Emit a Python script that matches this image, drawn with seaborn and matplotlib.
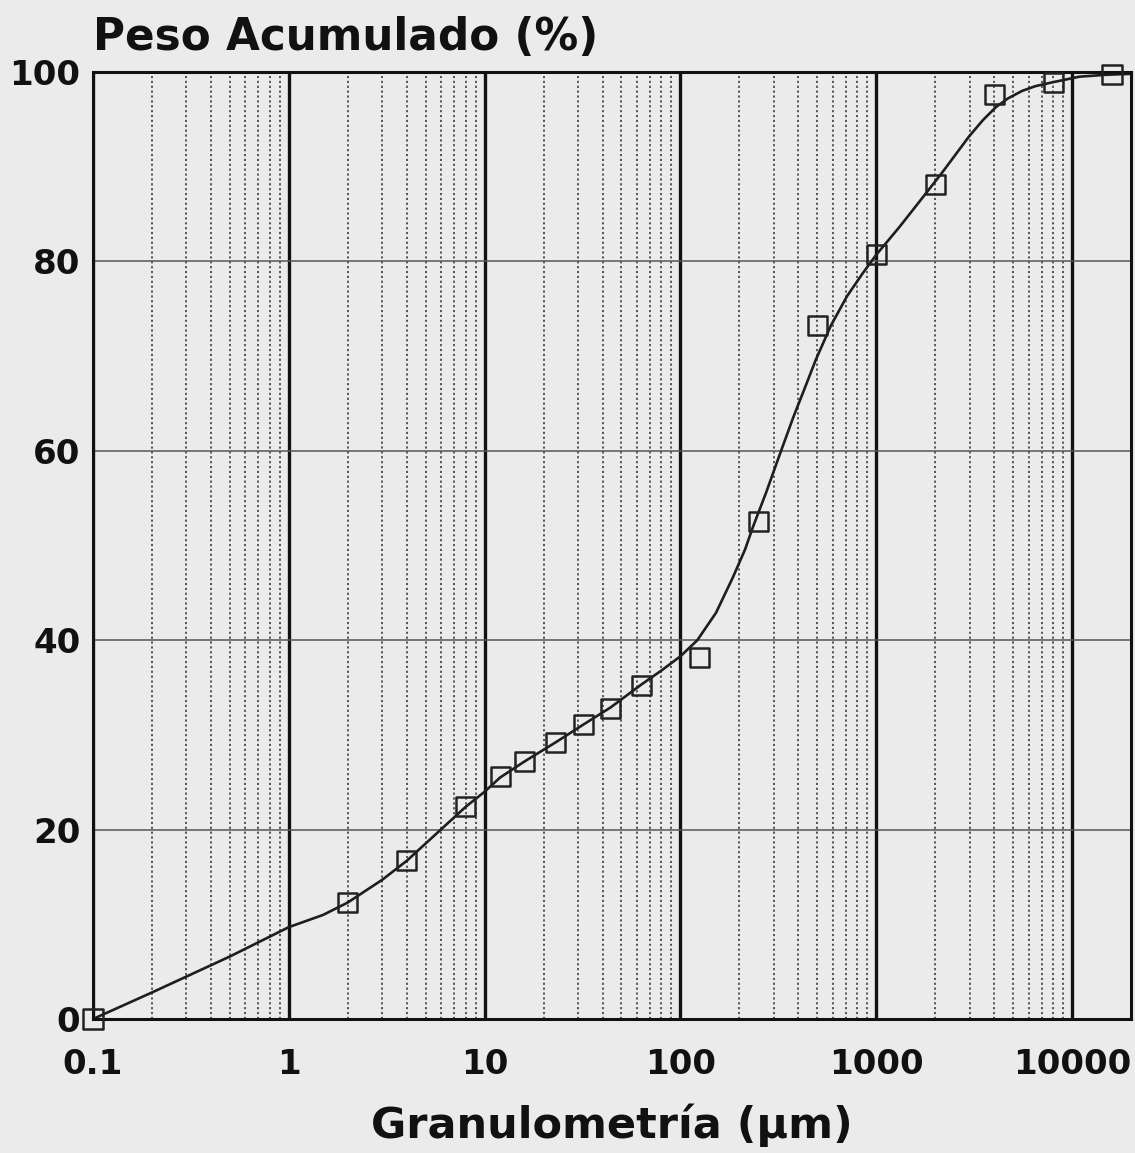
import numpy as np
import pandas as pd
import matplotlib
matplotlib.use("Agg")
import matplotlib.pyplot as plt
import matplotlib.ticker as mticker
import seaborn as sns

# ---- data ----
size_um = [0.1, 2, 4, 8, 12, 16, 23, 32, 44, 63, 125, 250, 500, 1000, 2000, 4000, 8000, 16000]
cum_pct = [0.0, 12.3, 16.7, 22.4, 25.6, 27.2, 29.2, 31.1, 32.8, 35.2, 38.2, 52.5, 73.2, 80.7, 88.1, 97.6, 98.9, 99.7]

curve_x = [0.1, 0.2, 0.5, 1, 1.5, 2, 3, 4, 8, 10, 12, 16, 23, 32, 44, 63, 80, 100, 122, 152, 185,
           214, 235, 274, 324, 378, 435, 491, 586, 708, 850, 1000, 1310, 1660, 2175, 2980,
           3500, 4090, 4700, 5560, 6500, 7910, 10900, 14900, 20000]
curve_y = [0.0, 2.8, 6.6, 9.7, 11.0, 12.3, 14.7, 16.7, 22.4, 24.0, 25.5, 27.2, 29.2, 31.1, 32.9,
           35.3, 36.8, 38.3, 40.0, 42.9, 46.6, 49.6, 52.0, 55.6, 59.8, 63.6, 66.8, 69.6, 73.2,
           76.3, 78.7, 80.7, 83.6, 86.3, 89.4, 93.2, 94.9, 96.3, 97.2, 98.0, 98.5, 98.9, 99.5,
           99.7, 99.8]

x_ticks = [0.1, 1, 10, 100, 1000, 10000]
x_tick_labels = ["0.1", "1", "10", "100", "1000", "10000"]
y_ticks = [0, 20, 40, 60, 80, 100]

title_text = "Peso Acumulado (%)"
xlabel_text = "Granulometría (µm)"

# ---- style ----
sns.set_style("white")
plt.rcParams["font.family"] = ["DejaVu Sans"]
plt.rcParams["font.weight"] = "bold"
plt.rcParams["text.color"] = "#111111"
plt.rcParams["xtick.labelcolor"] = "#111111"
plt.rcParams["ytick.labelcolor"] = "#111111"
bg = "#ebebeb"

fig = plt.figure(figsize=(11.35, 11.53), dpi=100, facecolor=bg)
ax = fig.add_axes([0.0819, 0.1162, 0.9146, 0.8214])
ax.set_facecolor(bg)

ax.set_xscale("log")
ax.set_xlim(0.1, 20000)
ax.set_ylim(0, 100)

# grid
ax.xaxis.set_major_locator(mticker.FixedLocator(x_ticks))
ax.xaxis.set_major_formatter(mticker.FixedFormatter(x_tick_labels))
ax.xaxis.set_minor_locator(mticker.LogLocator(base=10, subs=np.arange(2, 10)))
ax.xaxis.set_minor_formatter(mticker.NullFormatter())
ax.set_yticks(y_ticks)
ax.grid(True, which="major", axis="x", color="#111111", linewidth=2.4, linestyle="-")
ax.grid(True, which="minor", axis="x", color="#4a4a4a", linewidth=1.3, linestyle=(0, (1.2, 1.5)))
ax.grid(True, which="major", axis="y", color="#555555", linewidth=1.1, linestyle="-")
ax.set_axisbelow(True)

ax.tick_params(axis="x", which="major", length=0, pad=21, labelsize=24.5, labelcolor="#111111")
ax.tick_params(axis="x", which="minor", direction="in", length=11, width=2.2, color="#222222")
ax.tick_params(axis="y", which="major", length=0, pad=9, labelsize=24.5, labelcolor="#111111")
for lab in ax.get_xticklabels() + ax.get_yticklabels():
    lab.set_fontweight("bold")

for sp in ax.spines.values():
    sp.set_color("#111111")
    sp.set_linewidth(2.2)

# data
df_curve = pd.DataFrame({"x": curve_x, "y": curve_y})
sns.lineplot(data=df_curve, x="x", y="y", ax=ax, sort=False, estimator=None,
             color="#1e1e1e", linewidth=1.9)
df_pts = pd.DataFrame({"x": size_um, "y": cum_pct})
sns.scatterplot(data=df_pts, x="x", y="y", ax=ax, marker="s", s=190,
                facecolor="none", edgecolor="#222222", linewidth=1.8, clip_on=False, zorder=5)

ax.set_xlabel(xlabel_text, fontsize=31, fontweight="bold", labelpad=16, color="#111111")
ax.set_ylabel("")
fig.text(0.0819, 0.9566, title_text, fontsize=31.5, fontweight="bold", ha="left", va="baseline",
         color="#111111")

fig.savefig("out.png", dpi=100, facecolor=bg)
